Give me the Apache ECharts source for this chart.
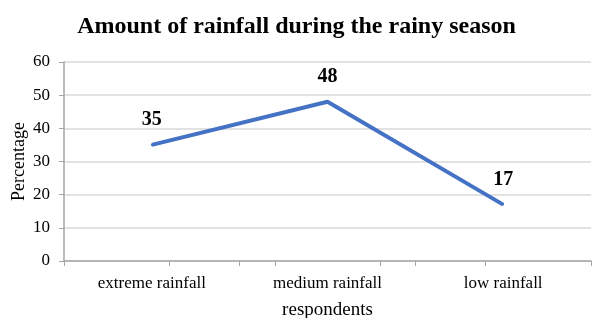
<!DOCTYPE html>
<html>
<head>
<meta charset="utf-8">
<script src="https://cdn.jsdelivr.net/npm/echarts@6/dist/echarts.min.js"></script>
<style>
html, body { margin: 0; padding: 0; background: #fff; }
#main { width: 593px; height: 318px; }
</style>
</head>
<body>
<div id="main"></div>
<script>
var categories = ['extreme rainfall', 'medium rainfall', 'low rainfall'];
var values = [35, 48, 17];
var yTicks = [0, 10, 20, 30, 40, 50, 60];

var serif = '"Liberation Serif", "Times New Roman", serif';
var chart = echarts.init(document.getElementById('main'));

var option = {
    backgroundColor: '#fff',
    animation: false,
    title: {
        text: 'Amount of rainfall during the rainy season',
        left: 'center',
        top: 10,
        textStyle: { fontFamily: serif, fontSize: 24, fontWeight: 'bold', color: '#000' }
    },
    grid: { left: 64, right: 2, top: 62, bottom: 57, outerBoundsMode: 'none', containLabel: false },
    xAxis: [
        {
            type: 'category',
            data: categories,
            boundaryGap: true,
            name: 'respondents',
            nameLocation: 'middle',
            nameGap: 40,
            nameTextStyle: { fontFamily: serif, fontSize: 19, color: '#000' },
            axisLine: { lineStyle: { color: '#a6a6a6', width: 1.5 } },
            axisTick: { show: true, length: 5, lineStyle: { color: '#a6a6a6' } },
            axisLabel: { fontFamily: serif, fontSize: 17, color: '#000', margin: 14 }
        },
        {
            // half-category ticks (category centres)
            type: 'category',
            data: ['', '', '', '', '', ''],
            position: 'bottom',
            boundaryGap: false,
            axisLine: { show: false },
            axisTick: { show: true, length: 5, lineStyle: { color: '#a6a6a6' } },
            axisLabel: { show: false },
            splitLine: { show: false }
        }
    ],
    yAxis: {
        type: 'value',
        min: yTicks[0],
        max: yTicks[yTicks.length - 1],
        interval: 10,
        name: 'Percentage',
        nameLocation: 'middle',
        nameGap: 36,
        nameMoveOverlap: false,
        nameTextStyle: { fontFamily: serif, fontSize: 18, color: '#000' },
        axisLine: { show: true, lineStyle: { color: '#a6a6a6', width: 1.5 } },
        axisTick: { show: true, length: 5, lineStyle: { color: '#a6a6a6' } },
        axisLabel: { fontFamily: serif, fontSize: 17, color: '#000', margin: 14 },
        splitLine: { lineStyle: { color: '#d9d9d9', width: 1.5 } }
    },
    series: [{
        type: 'line',
        data: values,
        xAxisIndex: 0,
        symbol: 'circle',
        symbolSize: 2,
        showSymbol: true,
        itemStyle: { color: '#4472c4' },
        lineStyle: { color: '#4472c4', width: 4 },
        label: {
            show: true,
            position: 'top',
            distance: 14,
            fontFamily: serif,
            fontSize: 20,
            fontWeight: 'bold',
            color: '#000'
        }
    }]
};

chart.setOption(option);
</script>
</body>
</html>
